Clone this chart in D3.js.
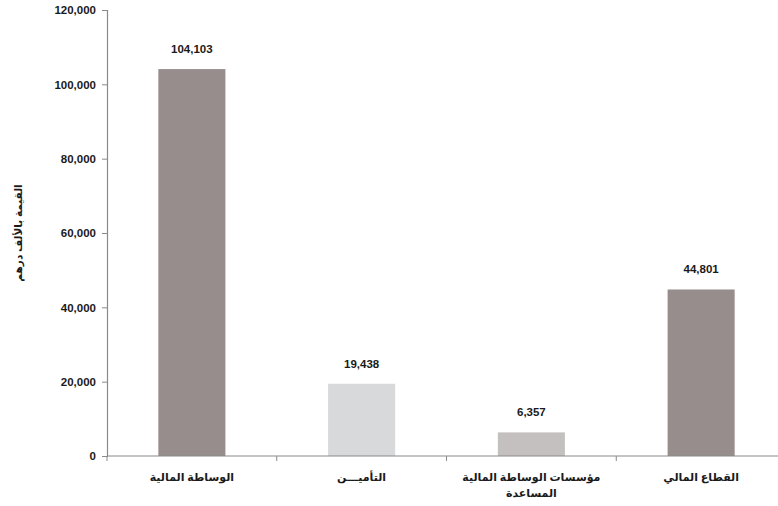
<!DOCTYPE html>
<html>
<head>
<meta charset="utf-8">
<script src="https://cdn.jsdelivr.net/npm/d3@7/dist/d3.min.js"></script>
<style>
  html, body { margin: 0; padding: 0; background: #fff; }
  svg { display: block; }
  text { font-family: "Liberation Sans", Arial, sans-serif; }
</style>
</head>
<body>
<svg id="chart" width="778" height="506"></svg>
<script>
// Financial sector value added, thousands of dirhams
const categories = [
  ["الوساطة المالية"],
  ["التأميـــن"],
  ["مؤسسات الوساطة المالية", "المساعدة"],
  ["القطاع المالي"]
];
const values = [104103, 19438, 6357, 44801];
const barColors = ["#978d8c", "#d8d9db", "#c4c0c0", "#978d8c"];
const yTicks = [0, 20000, 40000, 60000, 80000, 100000, 120000];
const yTitle = "القيمة بالألف درهم";

const svg = d3.select("#chart");
const margin = { left: 107, right: 0, top: 10, bottom: 50 };
const plotRight = 786;          // last band ends past the window edge
const zeroY = 456;

const x = d3.scaleBand()
  .domain(d3.range(categories.length))
  .range([margin.left, plotRight])
  .paddingInner(0.605)
  .paddingOuter(0.3025);

const y = d3.scaleLinear()
  .domain([0, 120000])
  .range([zeroY, margin.top]);

const fmt = d3.format(",");

// Bars
svg.append("g").selectAll("rect")
  .data(values)
  .join("rect")
  .attr("x", (d, i) => x(i))
  .attr("y", d => y(d))
  .attr("width", x.bandwidth())
  .attr("height", d => zeroY - y(d))
  .attr("fill", (d, i) => barColors[i]);

// Value labels
svg.append("g").selectAll("text")
  .data(values)
  .join("text")
  .attr("x", (d, i) => x(i) + x.bandwidth() / 2)
  .attr("y", d => y(d) - 16)
  .attr("text-anchor", "middle")
  .attr("font-size", 11.5)
  .attr("font-weight", "bold")
  .attr("fill", "#1a1a1a")
  .text(d => fmt(d));

// Y axis
const yAxis = d3.axisLeft(y)
  .tickValues(yTicks)
  .tickFormat(d => fmt(d))
  .tickSize(5)
  .tickPadding(6);
const gy = svg.append("g")
  .attr("transform", `translate(${margin.left},0)`)
  .call(yAxis);
gy.select(".domain").attr("stroke", "#8a8a8a").attr("stroke-width", 1.2);
gy.selectAll(".tick line").attr("stroke", "#8a8a8a");
gy.selectAll(".tick text")
  .attr("font-size", 11.5)
  .attr("font-weight", "bold")
  .attr("fill", "#1a1a1a")
  .style("font-family", "'Liberation Sans', Arial, sans-serif");

// X axis: baseline with tick marks at band boundaries
const step = x.step();
const boundaries = d3.range(categories.length + 1).map(i => margin.left + i * step);
svg.append("line")
  .attr("x1", margin.left).attr("x2", 778)
  .attr("y1", zeroY).attr("y2", zeroY)
  .attr("stroke", "#8a8a8a").attr("stroke-width", 1.2);
svg.append("g").selectAll("line")
  .data(boundaries)
  .join("line")
  .attr("x1", d => d).attr("x2", d => d)
  .attr("y1", zeroY).attr("y2", zeroY + 5)
  .attr("stroke", "#8a8a8a");

// Category labels
const catG = svg.append("g").selectAll("text")
  .data(categories)
  .join("text")
  .attr("x", (d, i) => x(i) + x.bandwidth() / 2)
  .attr("y", 481)
  .attr("text-anchor", "middle")
  .attr("direction", "rtl")
  .attr("font-size", 11)
  .attr("font-weight", "bold")
  .attr("fill", "#1a1a1a")
  .style("font-family", "'Noto Sans', 'DejaVu Sans', sans-serif");
catG.selectAll("tspan")
  .data(d => d)
  .join("tspan")
  .attr("x", function () { return d3.select(this.parentNode).attr("x"); })
  .attr("dy", (d, j) => j === 0 ? 0 : 16)
  .text(d => d);

// Y axis title
svg.append("text")
  .attr("transform", `translate(22,${(zeroY + margin.top) / 2}) rotate(-90)`)
  .attr("text-anchor", "middle")
  .attr("direction", "rtl")
  .attr("font-size", 10.5)
  .attr("font-weight", "bold")
  .attr("fill", "#1a1a1a")
  .style("font-family", "'Noto Sans', 'DejaVu Sans', sans-serif")
  .text(yTitle);
</script>
</body>
</html>
